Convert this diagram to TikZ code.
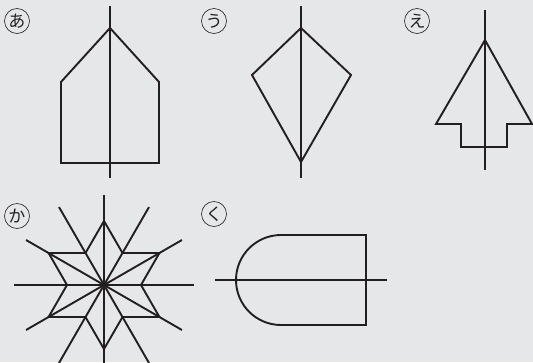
\documentclass[tikz,border=0pt]{standalone}
\usepackage{fontspec}
\newfontfamily\jpfont{Noto Sans CJK JP}
\definecolor{paper}{HTML}{E6E7E9}
\definecolor{ink}{HTML}{231F20}
\tikzset{
  fig/.style={line width=1.9pt, draw=ink, line join=miter},
  tag/.style={circle, draw=ink, line width=0.6pt, inner sep=-2pt, minimum size=25pt,
    text=ink, font=\jpfont\fontsize{17}{17}\selectfont}
}
\begin{document}
\begin{tikzpicture}[x=1pt, y=-1pt]

    % Frame
    \path[use as bounding box, fill=paper] (0,0) rectangle (533,362);
    \clip (0,0) rectangle (533,362);

    % Labels
    \node[tag] (l_a) at (17,21) {あ};
    \node[tag] (l_u) at (214,21) {う};
    \node[tag] (l_e) at (417,21) {え};
    \node[tag] (l_ka) at (17,216) {か};
    \node[tag] (l_ku) at (214,214) {く};

    % Figure a
    \draw[fig] (110,28) -- (159,82) -- (159,163) -- (61,163) -- (61,82) -- cycle;
    \draw[fig] (110,6) -- (110,178);

    % Figure u
    \draw[fig] (301,28) -- (351,75) -- (301,162) -- (252,75) -- cycle;
    \draw[fig] (301,6) -- (301,178);

    % Figure e
    \draw[fig] (485,40) -- (532,124) -- (507,124) -- (507,147) -- (461,147)
      -- (461,124) -- (436,124) -- cycle;
    \draw[fig] (485,10) -- (485,170);

    % Figure ka
    \coordinate (c_ka) at (104,285);
    \begin{scope}[shift={(c_ka)}]
      \draw[fig] (0:37) \foreach \a in {0,60,...,300} { -- (\a:37) -- (\a+30:64) } -- cycle;
      \foreach \a in {0,30,...,330}
        \draw[fig] (0,0) -- (\a:90);
    \end{scope}

    % Figure ku
    \draw[fig] (366,235) -- (281,235) arc[start angle=270, end angle=90, radius=45]
      -- (366,325) -- cycle;
    \draw[fig] (215,280) -- (387,280);

\end{tikzpicture}
\end{document}
